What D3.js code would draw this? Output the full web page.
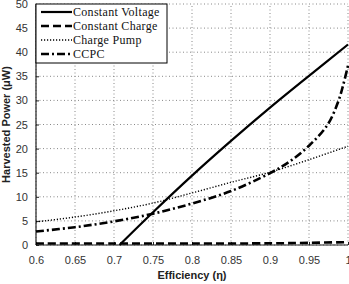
<!DOCTYPE html>
<html>
<head>
<meta charset="utf-8">
<script src="https://cdn.jsdelivr.net/npm/d3@7"></script>
<style>
  body { margin: 0; background: #fff; }
  svg { display: block; }
</style>
</head>
<body>
<div id="chart"></div>
<script>
// Chart data
const etaTicks = [0.6, 0.65, 0.7, 0.75, 0.8, 0.85, 0.9, 0.95, 1];
const powerTicks = [0, 5, 10, 15, 20, 25, 30, 35, 40, 45, 50];

const cvEta = [0.707, 0.75, 0.8, 0.85, 0.9, 0.95, 1];
const cvPower = [0, 6.8, 14.4, 21.6, 28.5, 35.1, 41.6];

const ccEta = [0.6, 0.7, 0.8, 0.9, 0.95, 1];
const ccPower = [0.3, 0.3, 0.3, 0.35, 0.45, 0.6];

const cpEta = [0.6, 0.65, 0.7, 0.75, 0.8, 0.85, 0.9, 0.95, 1];
const cpPower = [4.8, 5.8, 7.1, 8.7, 10.8, 13.0, 15.1, 17.7, 20.5];

const ccpcEta = [0.6, 0.65, 0.7, 0.75, 0.8, 0.85, 0.9, 0.925, 0.95, 0.974, 0.988, 0.994, 1];
const ccpcPower = [2.8, 3.7, 4.9, 6.5, 8.6, 11.2, 14.9, 17.3, 20.6, 25, 30, 33.3, 37.2];

const seriesNames = ['Constant Voltage', 'Constant Charge', 'Charge Pump', 'CCPC'];

const width = 349, height = 284;
const margin = { top: 4, right: 1, bottom: 39, left: 36 };

const svg = d3.select('#chart').append('svg')
    .attr('width', width)
    .attr('height', height);

const x = d3.scaleLinear().domain([0.6, 1]).range([margin.left, width - margin.right]);
const y = d3.scaleLinear().domain([0, 50]).range([height - margin.bottom, margin.top]);

// Grid lines
svg.append('g').selectAll('line').data(etaTicks).join('line')
    .attr('x1', d => x(d)).attr('x2', d => x(d))
    .attr('y1', y(0)).attr('y2', y(50))
    .attr('stroke', '#888').attr('stroke-width', 1).attr('stroke-dasharray', '1,2.5');

svg.append('g').selectAll('line').data(powerTicks).join('line')
    .attr('x1', x(0.6)).attr('x2', x(1))
    .attr('y1', d => y(d)).attr('y2', d => y(d))
    .attr('stroke', '#888').attr('stroke-width', 1).attr('stroke-dasharray', '1,2.5');

// Axes
const xAxis = svg.append('g')
    .attr('transform', `translate(0, ${y(0)})`)
    .call(d3.axisBottom(x).tickValues(etaTicks).tickSize(-3).tickPadding(11)
        .tickFormat(d => d3.format('')(d)));
const yAxis = svg.append('g')
    .attr('transform', `translate(${x(0.6)}, 0)`)
    .call(d3.axisLeft(y).tickValues(powerTicks).tickSize(-3).tickPadding(8));

[xAxis, yAxis].forEach(a => {
    a.select('.domain').attr('stroke', '#222').attr('stroke-width', 1.2);
    a.selectAll('.tick line').attr('stroke', '#222');
    a.selectAll('text')
        .style('font-family', 'Arial, "Liberation Sans", sans-serif')
        .style('font-size', '11px')
        .attr('fill', '#333');
});
xAxis.select('.domain').attr('d', `M${x(0.6)},0H${x(1)}`);
yAxis.select('.domain').attr('d', `M0,${y(0)}V${y(50)}`);

// Axis titles
svg.append('text')
    .attr('x', (x(0.6) + x(1)) / 2)
    .attr('y', 279)
    .attr('text-anchor', 'middle')
    .style('font-family', 'Arial, "Liberation Sans", sans-serif')
    .style('font-size', '11px')
    .style('font-weight', 'bold')
    .attr('fill', '#222')
    .text('Efficiency (η)');

svg.append('text')
    .attr('transform', `translate(10, ${(y(0) + y(50)) / 2}) rotate(-90)`)
    .attr('text-anchor', 'middle')
    .style('font-family', 'Arial, "Liberation Sans", sans-serif')
    .style('font-size', '11px')
    .style('font-weight', 'bold')
    .attr('fill', '#222')
    .text('Harvested Power (μW)');

// Series lines
const styles = [
    { dash: null, w: 2.2 },
    { dash: '8,4', w: 2.6 },
    { dash: '1.2,1.8', w: 1.4 },
    { dash: '8,3,2,3', w: 2.6 }
];
const series = [
    d3.zip(cvEta, cvPower),
    d3.zip(ccEta, ccPower),
    d3.zip(cpEta, cpPower),
    d3.zip(ccpcEta, ccpcPower)
];

const line = d3.line()
    .x(d => x(d[0]))
    .y(d => y(d[1]))
    .curve(d3.curveCatmullRom.alpha(0.5));

series.forEach((s, i) => {
    svg.append('path')
        .datum(s)
        .attr('d', line)
        .attr('fill', 'none')
        .attr('stroke', '#000')
        .attr('stroke-width', styles[i].w)
        .attr('stroke-dasharray', styles[i].dash);
});

// Legend
const legend = svg.append('g');
legend.append('rect')
    .attr('x', x(0.6)).attr('y', y(50))
    .attr('width', 131).attr('height', 59)
    .attr('fill', '#fff').attr('stroke', '#000').attr('stroke-width', 1);

seriesNames.forEach((name, i) => {
    const ly = 12 + i * 14;
    legend.append('line')
        .attr('x1', 41).attr('x2', 72)
        .attr('y1', ly).attr('y2', ly)
        .attr('stroke', '#000')
        .attr('stroke-width', styles[i].w)
        .attr('stroke-dasharray', styles[i].dash);
    legend.append('text')
        .attr('x', 73).attr('y', ly + 4)
        .style('font-family', '"Liberation Serif", "DejaVu Serif", serif')
        .style('font-size', '12px')
        .style('letter-spacing', '0.3px')
        .attr('fill', '#111')
        .text(name);
});
</script>
</body>
</html>
